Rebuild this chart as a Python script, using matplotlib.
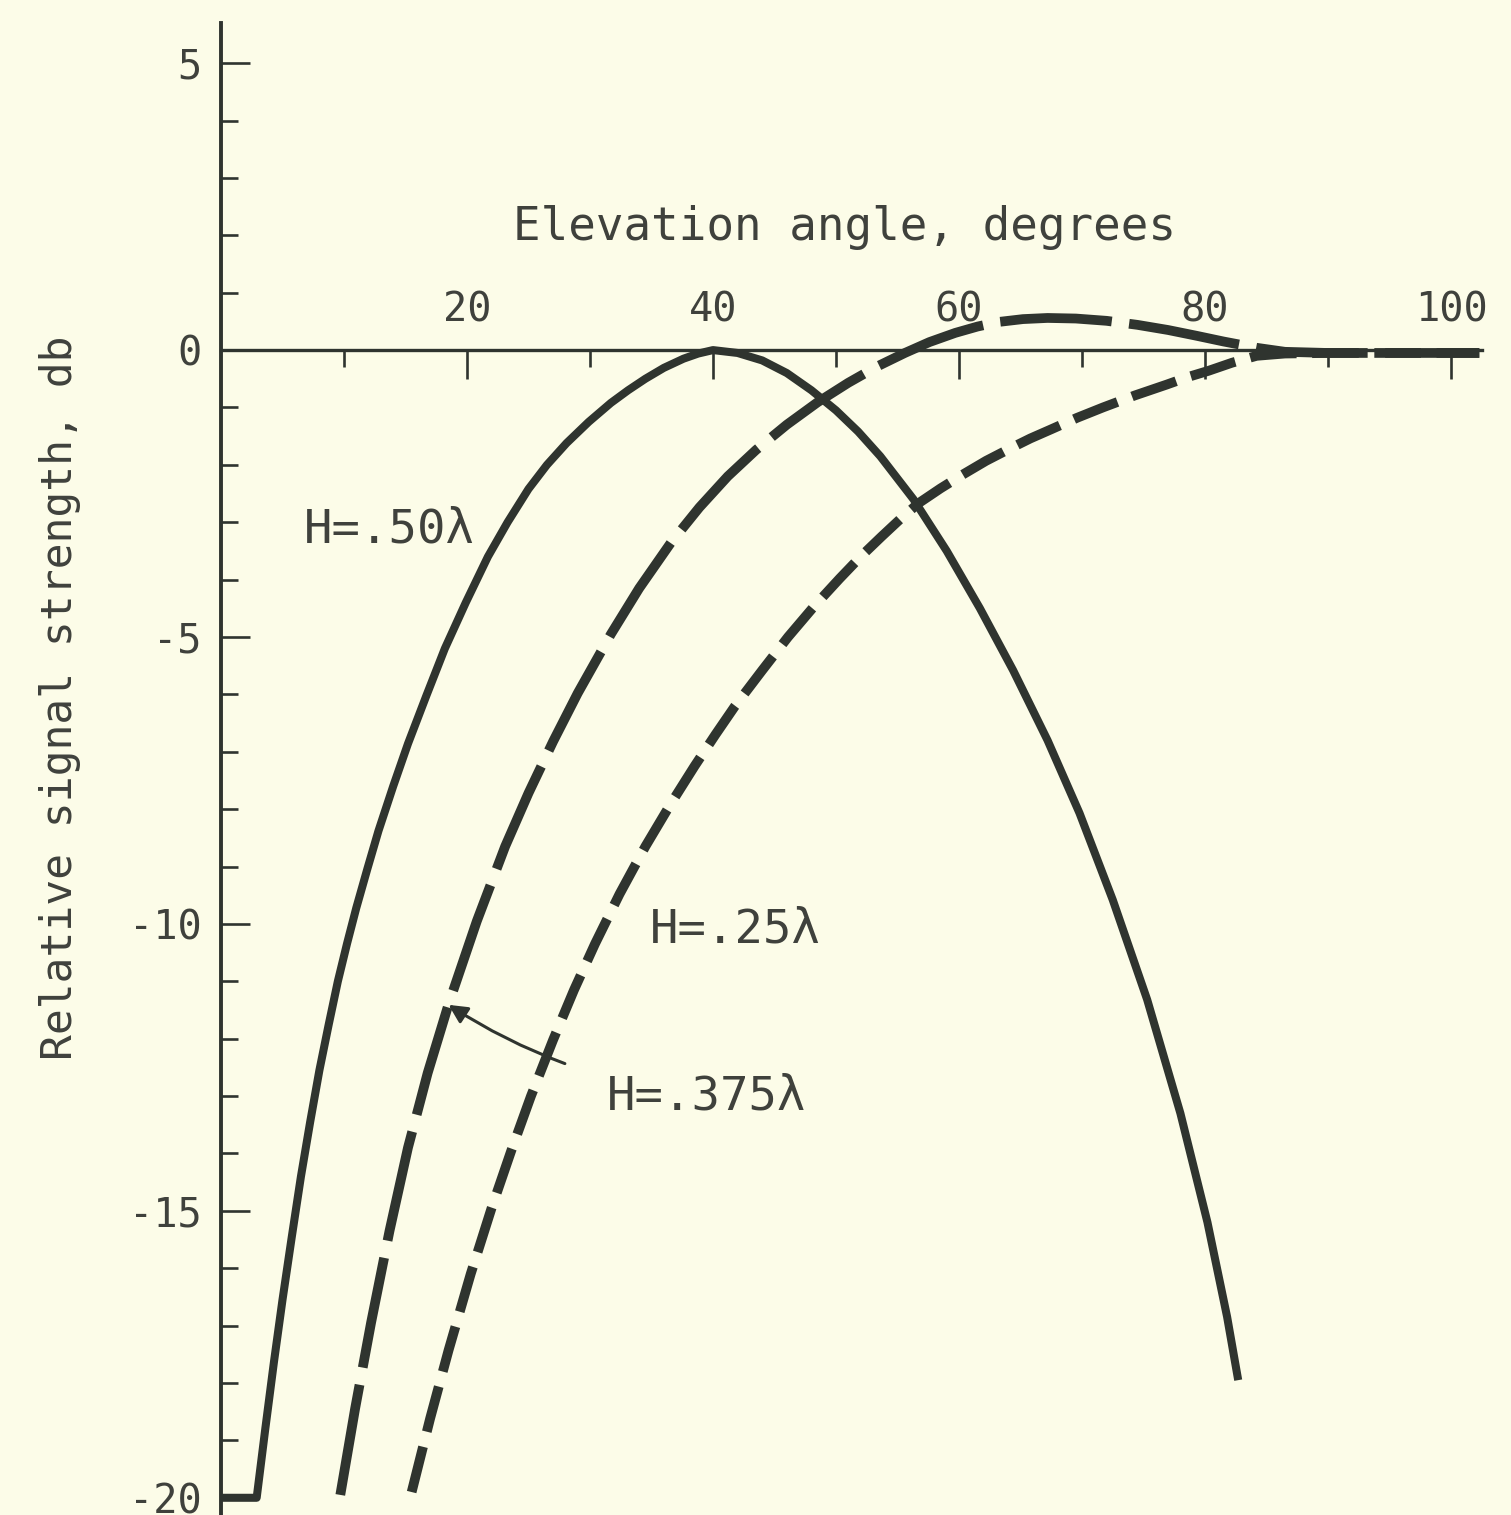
import matplotlib
matplotlib.use("Agg")
import matplotlib.pyplot as plt

# elevation angle (deg) / relative signal strength (db)
x_h50 = [0.0, 2.9, 3.6, 4.3, 5.0, 5.75, 6.5, 7.25, 8.0, 8.75, 9.5, 10.25, 11.0,
         11.9, 12.8, 14.0, 15.2, 16.7, 18.2, 19.9, 21.7, 23.3, 25.0, 26.5, 28.1,
         29.9, 31.7, 33.1, 34.5, 36.0, 37.6, 38.8, 40.0, 42.0, 44.0, 46.0, 48.0,
         50.0, 51.8, 53.6, 56.3, 59.0, 61.7, 64.4, 67.2, 69.8, 72.5, 75.3, 78.0,
         80.2, 81.8, 82.7]
y_h50 = [-20.0, -20.0, -18.8, -17.64, -16.55, -15.46, -14.4, -13.45, -12.55, -11.76,
         -11.0, -10.34, -9.72, -9.04, -8.38, -7.6, -6.86, -6.02, -5.2, -4.4, -3.6,
         -3.0, -2.42, -2.0, -1.62, -1.25, -0.92, -0.7, -0.5, -0.31, -0.15, -0.06,
         0.0, -0.05, -0.18, -0.4, -0.7, -1.05, -1.42, -1.85, -2.6, -3.5, -4.5,
         -5.58, -6.8, -8.07, -9.58, -11.32, -13.3, -15.2, -16.85, -17.95]

x_h375 = [9.7, 10.9, 12.2, 13.7, 15.2, 16.8, 18.5, 20.8, 23.1, 25.0, 27.0, 29.0,
          31.7, 34.0, 36.6, 38.9, 41.2, 43.5, 46.0, 48.5, 51.0, 53.3, 55.6, 57.6,
          59.7, 61.5, 63.2, 65.2, 67.2, 69.5, 72.0, 74.5, 77.0, 79.3, 81.5, 84.2,
          86.5, 90.0, 102.3]
y_h375 = [-19.95, -18.45, -16.95, -15.35, -13.9, -12.6, -11.4, -9.95, -8.65, -7.72,
          -6.82, -5.98, -4.95, -4.15, -3.35, -2.74, -2.2, -1.74, -1.3, -0.91, -0.57,
          -0.29, -0.05, 0.14, 0.3, 0.41, 0.49, 0.54, 0.56, 0.55, 0.51, 0.44, 0.35,
          0.25, 0.15, 0.04, -0.03, -0.05, -0.05]

x_h25 = [15.5, 17.0, 18.5, 20.3, 22.0, 23.6, 25.2, 27.0, 28.7, 30.4, 32.4, 34.5,
         36.5, 38.5, 40.2, 41.8, 44.0, 46.1, 48.2, 50.3, 52.0, 53.7, 55.2, 56.7,
         58.5, 60.3, 62.2, 64.1, 65.8, 67.5, 69.6, 71.7, 74.3, 76.9, 78.6, 80.3,
         82.2, 84.2, 86.5, 90.0, 102.3]
y_h25 = [-19.9, -18.62, -17.43, -16.1, -14.95, -13.95, -13.0, -12.02, -11.15, -10.35,
         -9.48, -8.65, -7.93, -7.25, -6.7, -6.2, -5.58, -5.0, -4.47, -3.98, -3.6,
         -3.25, -2.95, -2.67, -2.41, -2.17, -1.93, -1.72, -1.54, -1.38, -1.18, -1.0,
         -0.79, -0.6, -0.47, -0.36, -0.22, -0.1, -0.06, -0.05, -0.05]

xticks_major = [20, 40, 60, 80, 100]
xticks_minor = [10, 30, 50, 70, 90]
yticks_major = [5, 0, -5, -10, -15, -20]
ytick_labels = ["5", "0", "-5", "-10", "-15", "-20"]
yticks_minor = [v for v in range(-19, 5)]

bg = "#fcfce8"
ink = "#2f342f"
txt = "#3f413c"

plt.rcParams["font.family"] = ["DejaVu Sans Mono", "DejaVu Sans"]

fig = plt.figure(figsize=(15.11, 15.15), dpi=100)
fig.patch.set_facecolor(bg)
ax = fig.add_axes([221 / 1511, 0, 1290 / 1511, 1492 / 1515])
ax.set_facecolor(bg)
ax.set_xlim(0, 1290 / 12.3)
ax.set_ylim(-20.3, 5.7)

# curves
ax.plot(x_h50, y_h50, color=ink, lw=5.8, solid_capstyle="butt",
        solid_joinstyle="round", clip_on=False)
ax.plot(x_h375, y_h375, color=ink, lw=7, ls=(0, (11.5, 1.8)),
        dash_capstyle="butt", clip_on=False)
ax.plot(x_h25, y_h25, color=ink, lw=7, ls=(0, (4.8, 1.6)),
        dash_capstyle="butt", clip_on=False)

# axes styled like the original drawing
for s in ["bottom", "right"]:
    ax.spines[s].set_visible(False)
ax.spines["top"].set_position(("data", 0))
ax.spines["top"].set_bounds(0, 102.5)
ax.spines["top"].set_linewidth(2.4)
ax.spines["left"].set_linewidth(2.8)
ax.spines["top"].set_color(ink)
ax.spines["left"].set_color(ink)

ax.xaxis.set_ticks_position("top")
ax.yaxis.set_ticks_position("left")
ax.set_xticks(xticks_major)
ax.set_xticks(xticks_minor, minor=True)
ax.set_yticks(yticks_major)
ax.set_yticklabels(ytick_labels)
ax.set_yticks(yticks_minor, minor=True)

ax.tick_params(axis="both", which="both", direction="in", color=ink,
               width=1.9, labelcolor=txt, labelsize=29, pad=14)
ax.tick_params(axis="both", which="major", length=21)
ax.tick_params(axis="both", which="minor", length=12.5)

ax.text(50.7, 2.13, "Elevation angle, degrees", fontsize=33, color=txt,
        ha="center", va="center")
fig.text(60 / 1511, 1 - 698 / 1515, "Relative signal strength, db", fontsize=31,
         color=txt, rotation=90, ha="center", va="center")

ax.text(6.7, -3.14, "H=.50λ", fontsize=34, color=txt, ha="left", va="center")
ax.text(34.9, -10.1, "H=.25λ", fontsize=34, color=txt, ha="left", va="center")
ax.annotate("H=.375λ", xy=(18.5, -11.41), xytext=(31.4, -13.01),
            fontsize=34, color=txt, ha="left", va="center",
            arrowprops=dict(arrowstyle="-|>", color=ink, lw=2.2,
                            mutation_scale=28, shrinkA=30, shrinkB=0,
                            connectionstyle="arc3,rad=-0.12"))

fig.savefig("out.png", dpi=100, facecolor=bg)
